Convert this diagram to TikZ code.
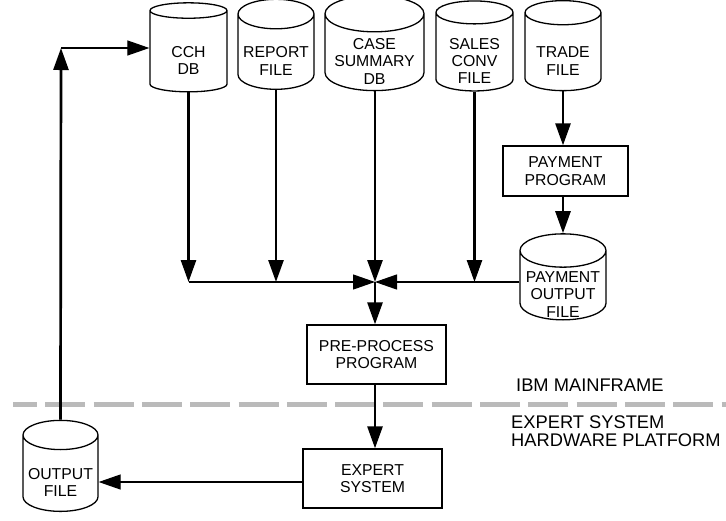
\documentclass[tikz,border=0pt]{standalone}
\usepackage{fontspec}
\setmainfont{Liberation Sans}
\usetikzlibrary{arrows.meta,shapes.geometric}
\newcommand\disktext[1]{\raisebox{-14.5pt}[0pt][0pt]{\begin{tabular}{@{}c@{}}#1\end{tabular}}}

\begin{document}
\begin{tikzpicture}[
		x=1pt, y=-1pt,
		every node/.style={font=\fontsize{15.8}{17.3}\selectfont, align=center, inner sep=0pt},
		disk/.style={draw, line width=1.3pt, cylinder, shape border rotate=90, aspect=0.45},
		prog/.style={draw, line width=1.3pt},
		feed/.style={line width=2.7pt, -{Triangle[length=22pt,width=15pt]}},
		merge/.style={line width=1.2pt, -{Triangle[length=22pt,width=15pt]}},
		platform/.style={anchor=base west, align=left, font=\fontsize{18.3}{17.3}\selectfont},
	]
	\useasboundingbox (0,0) rectangle (726,520);

	% files and data bases on the mainframe
	\node[disk, minimum width=77pt, minimum height=89pt] (cch) at (188.5,51.5) {\disktext{CCH\\DB}};
	\node[disk, minimum width=76pt, minimum height=90pt] (rep) at (276,52) {\disktext{REPORT\\FILE}};
	\node[disk, minimum width=99pt, minimum height=95pt] (case) at (374.5,52.5) {\disktext{CASE\\SUMMARY\\DB}};
	\node[disk, minimum width=77pt, minimum height=90pt] (sal) at (474.5,52) {\disktext{SALES\\CONV\\FILE}};
	\node[disk, minimum width=76pt, minimum height=90pt] (trd) at (563,52) {\disktext{TRADE\\FILE}};
	\node[prog, minimum width=125pt, minimum height=50pt] (pay) at (565.5,171) {PAYMENT\\PROGRAM};
	\node[disk, minimum width=86pt, minimum height=86pt] (pout) at (563,285.5) {\disktext{PAYMENT\\OUTPUT\\FILE}};
	\node[prog, minimum width=139pt, minimum height=59pt] (pre) at (376.5,354.5) {PRE-PROCESS\\PROGRAM};
	\node[prog, minimum width=139pt, minimum height=59pt] (exp) at (372.5,478.5) {EXPERT\\SYSTEM};
	\node[disk, minimum width=75pt, minimum height=91pt] (out) at (60.5,473.5) {\disktext{OUTPUT\\FILE}};

	\coordinate (j) at (375,282);
	\coordinate (ret) at (61,48);

	% platform boundary
	\draw[line width=5pt, color=black!27, dash pattern=on 40pt off 8.3pt, dash phase=16pt] (13,404) -- (726,404);
	\node[platform] (ibm) at (516,391) {IBM MAINFRAME};
	\node[platform] (xsys) at (511,446) {EXPERT SYSTEM\\HARDWARE PLATFORM};

	% flows
	\draw[feed] (trd.south) -- (trd.south |- pay.north);
	\draw[feed] (pout.north |- pay.south) -- (pout.north);
	\draw[feed] (cch.south) -- (cch.south |- j);
	\draw[feed] (rep.south) -- (rep.south |- j);
	\draw[feed] (sal.south) -- (sal.south |- j);
	\draw[feed] (j |- case.south) -- (j);
	\draw[merge] (cch.south |- j) -- (j);
	\draw[merge] (pout.west |- j) -- (j);
	\draw[feed] (j) -- (j |- pre.north);
	\draw[feed] (j |- pre.south) -- (j |- exp.north);
	\draw[merge] (exp.west) ++(0,3.5) -- (out.east |- 0,482);
	\draw[feed] (out.north) -- (ret);
	\draw[merge] (ret) -- (ret -| cch.west);
\end{tikzpicture}
\end{document}
